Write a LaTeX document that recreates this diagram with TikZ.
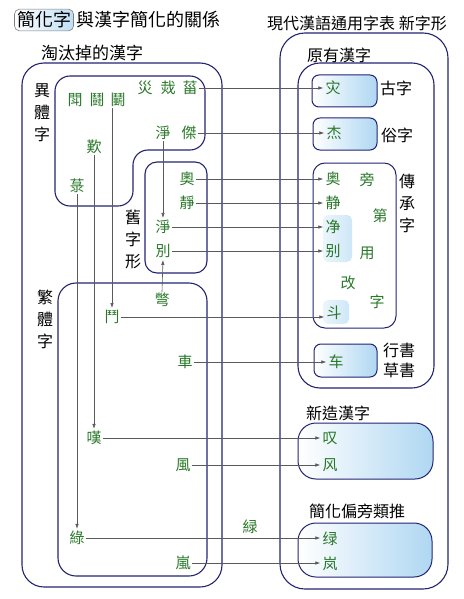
\documentclass[tikz,border=0pt]{standalone}
\usepackage{fontspec}
\newfontfamily\cjk{Noto Sans CJK TC}
\usetikzlibrary{arrows.meta}
\definecolor{boxc}{RGB}{35,35,115}
\definecolor{grn}{RGB}{40,120,40}
\definecolor{lblue}{RGB}{175,215,242}
\definecolor{lnc}{RGB}{90,90,90}
\begin{document}
\begin{tikzpicture}[x=1pt,y=-1pt,
  lbl/.style={font=\cjk\fontsize{16}{16}\selectfont, inner sep=0pt},
  ttl/.style={font=\cjk\fontsize{18}{18}\selectfont, inner sep=0pt},
  ch/.style={font=\cjk\fontsize{15}{15}\selectfont, text=grn, inner sep=1pt},
  vlbl/.style={font=\cjk\fontsize{16}{22}\selectfont, align=center, inner sep=0pt},
  frame/.style={draw=boxc, line width=1.1pt},
  sbox/.style={draw=boxc, line width=1pt, rounded corners=7pt, left color=white, right color=lblue},
  hl/.style={left color=lblue!25, right color=lblue!60, rounded corners=5pt},
  conn/.style={draw=lnc, line width=0.6pt, -{Latex[length=5pt,width=3.5pt]}, shorten >=1pt},
]
\useasboundingbox (0,0) rectangle (463,599);
% frames
\draw[frame, rounded corners=22pt] (22,63) rectangle (222,587);
\draw[frame, rounded corners=15pt] (130,76) -- (205,76) -- (205,150) -- (133,150) -- (133,206) -- (55,206) -- (55,76) -- cycle;
\draw[frame, rounded corners=12pt] (145,162) rectangle (207,273);
\draw[frame, rounded corners=18pt] (58,283) rectangle (207,576);
\draw[frame, rounded corners=25pt] (280,33) rectangle (448,589);
\draw[frame, rounded corners=22pt] (298,63) rectangle (434,388);
\path[sbox] (312,75) rectangle (377,107);
\path[sbox] (313,118) rectangle (377,150);
\path[hl] (323,215) rectangle (352,262);
\path[hl] (323,300) rectangle (349,324);
\draw[frame, line width=1pt, rounded corners=12pt] (313,163) rectangle (396,328);
\path[sbox] (314,344) rectangle (377,377);
\path[sbox, rounded corners=18pt] (298,423) rectangle (433,479);
\path[sbox, rounded corners=18pt] (298,523) rectangle (432,577);
% titles and labels
\node[ttl, draw=gray, line width=0.6pt, rounded corners=5pt, left color=white, right color=lblue!80, inner sep=2.5pt] (t1) at (44,20) {簡化字};
\node[ttl] (t2) at (148,20) {與漢字簡化的關係};
\node[lbl, font=\cjk\fontsize{17}{17}\selectfont] (t3) at (92,53) {淘汰掉的漢字};
\node[lbl] (t4) at (357,23) {現代漢語通用字表 新字形};
\node[lbl] (t5) at (339,55) {原有漢字};
\node[lbl] (t6) at (338,413) {新造漢字};
\node[lbl] (t7) at (357,511) {簡化偏旁類推};
\node[lbl] (t8) at (396,88) {古字};
\node[lbl] (t9) at (397,135) {俗字};
\node[lbl] (t10) at (399,350) {行書};
\node[lbl] (t11) at (399,370) {草書};
\node[vlbl] (v1) at (42,113) {異\\體\\字};
\node[vlbl] (v2) at (45,319) {繁\\體\\字};
\node[vlbl] (v3) at (133,239) {舊\\字\\形};
\node[vlbl] (v4) at (407,203) {傳\\承\\字};
% left characters
\node[ch] (ldoua) at (75,100) {閗};
\node[ch] (ldoub) at (97,100) {鬪};
\node[ch] (ldouc) at (118,100) {鬭};
\node[ch] (lzaia) at (145,88) {災};
\node[ch] (lzaib) at (168,88) {烖};
\node[ch] (lzaic) at (190,88) {菑};
\node[ch] (ljinga) at (163,133) {淨};
\node[ch] (ljie) at (189,133) {傑};
\node[ch] (ltana) at (94,147) {歎};
\node[ch] (llua) at (77,186) {菉};
\node[ch] (lao) at (187,179) {奧};
\node[ch] (ljingb) at (187,203) {靜};
\node[ch] (ljing) at (163,227) {淨};
\node[ch] (lbie) at (163,251) {別};
\node[ch] (lbiea) at (162,300) {彆};
\node[ch] (ldou) at (112,317) {鬥};
\node[ch] (lche) at (185,362) {車};
\node[ch] (ltan) at (94,438) {嘆};
\node[ch] (lfeng) at (183,465) {風};
\node[ch] (llu) at (77,538) {綠};
\node[ch] (llan) at (183,563) {嵐};
\node[ch] (luj) at (250,527) {緑};
% right characters
\node[ch] (rzai) at (333,88) {灾};
\node[ch] (rjie) at (334,133) {杰};
\node[ch] (rao) at (333,179) {奥};
\node[ch] (rjingb) at (333,203) {静};
\node[ch] (rjing) at (333,227) {净};
\node[ch] (rbie) at (333,251) {别};
\node[ch] (rdou) at (334,313) {斗};
\node[ch] (rche) at (336,362) {车};
\node[ch] (rtan) at (330,438) {叹};
\node[ch] (rfeng) at (330,465) {风};
\node[ch] (rlu) at (330,539) {绿};
\node[ch] (rlan) at (330,564) {岚};
\node[ch] (wa) at (367,180) {旁};
\node[ch] (wb) at (380,216) {第};
\node[ch] (wc) at (367,253) {用};
\node[ch] (wd) at (348,283) {改};
\node[ch] (we) at (377,302) {字};
% horizontal connectors
\draw[conn] (lzaic.east) -- (lzaic.east -| rzai.west);
\draw[conn] (ljie.east) -- (ljie.east -| rjie.west);
\draw[conn] (lao.east) -- (lao.east -| rao.west);
\draw[conn] (ljingb.east) -- (ljingb.east -| rjingb.west);
\draw[conn] (ljing.east) -- (ljing.east -| rjing.west);
\draw[conn] (lbie.east) -- (lbie.east -| rbie.west);
\draw[conn] (ldou.east) -- (ldou.east -| rdou.west);
\draw[conn] (lche.east) -- (lche.east -| rche.west);
\draw[conn] (ltan.east) -- (ltan.east -| rtan.west);
\draw[conn] (lfeng.east) -- (lfeng.east -| rfeng.west);
\draw[conn] (llu.east) -- (llu.east -| rlu.west);
\draw[conn] (llan.east) -- (llan.east -| rlan.west);
% vertical connectors
\draw[conn] (ljinga.south) -- (ljing.north);
\draw[conn] (lbiea.north) -- (lbie.south);
\draw[conn] (ldouc.south -| ldou.north) -- (ldou.north);
\draw[conn] (ltana.south -| ltan.north) -- (ltan.north);
\draw[conn] (llua.south -| llu.north) -- (llu.north);
\end{tikzpicture}
\end{document}
